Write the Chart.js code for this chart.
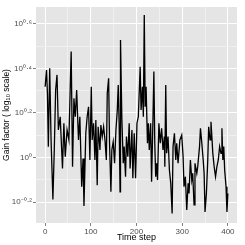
<!DOCTYPE html>
<html>
<head>
<meta charset="utf-8">
<script src="https://cdn.jsdelivr.net/npm/chart.js@4/dist/chart.umd.min.js"></script>
<style>
html,body{margin:0;padding:0;background:#fff;}
#wrap{width:245px;height:245px;position:relative;}
</style>
</head>
<body>
<div id="wrap"><canvas id="c"></canvas></div>
<script>
// Time steps and log10 gain factor
const steps = [0,3,5,7,10,13,17,20,23,26,29,33,38,41,44,48,52,57,60,63,66,69,73,76,80,83,85,89,92,95,98,101,103,106,109,111,114,116,120,122,125,128,131,134,136,139,141,144,146,149,152,155,158,160,162,164,165,168,171,173,176,178,181,184,186,190,192,195,198,201,204,208,210,213,215,217,219,221,224,226,228,231,233,236,238,240,242,244,246,249,252,255,258,261,262,264,266,269,272,275,278,280,283,286,288,291,295,299,302,304,307,310,313,315,318,321,323,326,328,332,334,336,338,340,343,346,348,350,353,356,358,361,363,365,367,370,373,376,379,382,385,387,389,391,393,396,398,400];
const logGain = [0.318,0.393,0.289,0.049,0.401,0.079,-0.188,0.034,0.303,0.371,0.124,0.183,-0.049,0.154,0.004,0.124,0.079,0.476,-0.041,0.266,0.183,0.303,0.079,0.183,-0.131,-0.004,-0.218,0.109,0.183,0.228,-0.011,0.318,0.079,0.154,-0.011,0.169,-0.124,0.138,0.034,0.146,0.094,0.138,0.079,-0.011,0.289,0.356,0.064,-0.154,0.034,0.071,-0.026,0.124,0.214,0.326,0.154,-0.154,0.528,0.169,-0.026,0.049,-0.086,0.094,0.004,0.154,-0.049,0.124,-0.093,0.109,-0.093,0.154,0.183,0.408,0.214,0.318,0.183,0.640,0.228,0.318,0.064,0.154,0.034,0.154,-0.109,0.169,0.386,0.064,-0.086,-0.026,-0.101,0.154,0.064,0.131,0.034,0.094,-0.041,0.326,0.019,0.094,-0.056,-0.116,-0.251,0.049,0.109,-0.011,0.064,-0.026,0.079,0.101,0.004,-0.131,-0.086,-0.236,-0.116,-0.161,-0.011,-0.101,-0.071,-0.213,-0.026,-0.071,-0.041,0.004,0.049,0.131,0.064,-0.011,-0.071,-0.244,-0.161,-0.011,0.138,0.079,0.161,0.094,0.019,-0.041,-0.086,-0.041,-0.011,0.049,0.019,0.131,-0.011,0.049,-0.056,-0.131,-0.244,-0.161];

const xTickValues = [0,100,200,300,400];
const xTickLabels = ['0','100','200','300','400'];
const xMinorValues = [50,150,250,350];
const yTickValues = [-0.2,0,0.2,0.4,0.6];
const yTickLabels = ['10\u207B\u2070\u00B7\u00B2','10\u2070','10\u2070\u00B7\u00B2','10\u2070\u00B7\u2074','10\u2070\u00B7\u2076'];
const yMinorValues = [-0.1,0.1,0.3,0.5];

const points = steps.map((s,i)=>({x:s,y:logGain[i]}));

function isMajor(list, v){ return list.some(m => Math.abs(m - v) < 1e-6); }

const panelBg = {
  id:'panelBg',
  beforeDraw(chart){
    const {ctx, chartArea:a} = chart;
    ctx.save();
    ctx.fillStyle = '#E5E5E5';
    ctx.fillRect(a.left, a.top, a.right-a.left, a.bottom-a.top);
    ctx.restore();
  }
};

const FONT = '"Liberation Sans", Arial, Helvetica, sans-serif';

new Chart(document.getElementById('c'), {
  type:'line',
  data:{datasets:[{
    data: points,
    borderColor:'#000',
    borderWidth:1.3,
    pointRadius:0,
    tension:0,
    fill:false
  }]},
  options:{
    responsive:true,
    maintainAspectRatio:false,
    animation:false,
    events:[],
    layout:{padding:{left:0,top:7,right:8,bottom:0}},
    plugins:{legend:{display:false},tooltip:{enabled:false}},
    scales:{
      x:{
        type:'linear', min:-20, max:420,
        afterBuildTicks(s){ s.ticks = xTickValues.concat(xMinorValues).sort((a,b)=>a-b).map(v=>({value:v})); },
        afterFit(s){ s.height = 22; },
        border:{display:false},
        grid:{
          color:(c)=> isMajor(xTickValues, c.tick.value) ? '#FFFFFF' : '#F0F0F0',
          tickColor:(c)=> isMajor(xTickValues, c.tick.value) ? '#7F7F7F' : 'rgba(0,0,0,0)',
          lineWidth:1, tickLength:3
        },
        ticks:{
          autoSkip:false, maxRotation:0, padding:1,
          color:'#4D4D4D', font:{family:FONT,size:8},
          callback:(v)=>{ const i = xTickValues.findIndex(m=>Math.abs(m-v)<1e-6); return i>=0 ? xTickLabels[i] : ''; }
        },
        title:{display:true,text:'Time step',color:'#000',font:{family:FONT,size:9},padding:{top:0,bottom:2}}
      },
      y:{
        type:'linear', min:-0.294, max:0.676,
        afterBuildTicks(s){ s.ticks = yTickValues.concat(yMinorValues).sort((a,b)=>a-b).map(v=>({value:v})); },
        afterFit(s){ s.width = 36; },
        border:{display:false},
        grid:{
          color:(c)=> isMajor(yTickValues, c.tick.value) ? '#FFFFFF' : '#F0F0F0',
          tickColor:(c)=> isMajor(yTickValues, c.tick.value) ? '#7F7F7F' : 'rgba(0,0,0,0)',
          lineWidth:1, tickLength:3
        },
        ticks:{
          autoSkip:false, padding:1,
          color:'#4D4D4D', font:{family:FONT,size:8},
          callback:(v)=>{ const i = yTickValues.findIndex(m=>Math.abs(m-v)<1e-6); return i>=0 ? yTickLabels[i] : ''; }
        },
        title:{display:true,text:'Gain factor ( log\u2081\u2080 scale)',color:'#000',font:{family:FONT,size:8.5},padding:{top:2,bottom:0}}
      }
    }
  },
  plugins:[panelBg]
});
</script>
</body>
</html>
